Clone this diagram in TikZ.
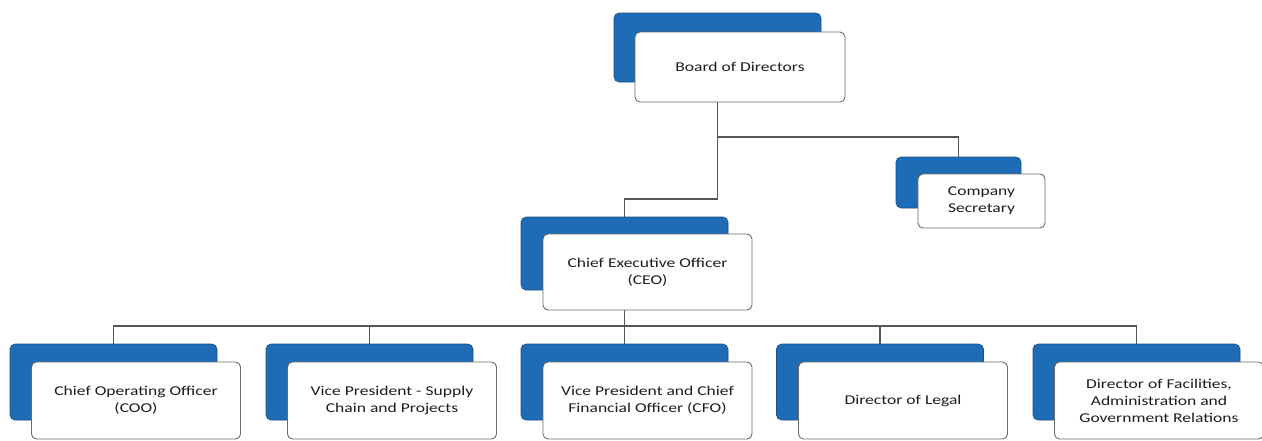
\documentclass[tikz,border=0pt]{standalone}
\usepackage{fontspec}
\setmainfont{Carlito}[FakeStretch=1.3]
\usetikzlibrary{backgrounds}
\definecolor{boxblue}{RGB}{30,108,182}
\definecolor{bluedge}{RGB}{28,78,135}
\definecolor{linegray}{RGB}{85,85,85}
\definecolor{edgegray}{RGB}{105,105,105}
\definecolor{textgray}{RGB}{30,30,30}
\begin{document}
\begin{tikzpicture}[x=1pt,y=-1pt,
  back/.style={draw=bluedge, fill=boxblue, rounded corners=5pt, line width=0.6pt, inner sep=0pt},
  front/.style={draw=edgegray, fill=white, rounded corners=5pt, line width=0.9pt, align=center, text=textgray, font=\fontsize{13.5}{17}\selectfont, inner sep=2pt},
  conn/.style={draw=linegray, line width=1.1pt}]
\useasboundingbox (0,0) rectangle (1262,440);

% Board
\node[back, minimum width=207pt, minimum height=69pt] (bboard) at (717.5,47.5) {};
\node[front, minimum width=210pt, minimum height=70pt] (board) at (740,67) {Board of Directors};
% Company Secretary
\node[back, minimum width=125pt, minimum height=51pt] (bcs) at (958.5,182.5) {};
\node[front, minimum width=127pt, minimum height=54pt] (cs) at (981.5,201) {Company\\Secretary};
% CEO
\node[back, minimum width=207pt, minimum height=73pt] (bceo) at (624.5,253.5) {};
\node[front, minimum width=209pt, minimum height=76pt] (ceo) at (647.5,272) {Chief Executive Officer\\(CEO)};
% Bottom row
\node[back, minimum width=207pt, minimum height=76pt] (b1) at (113.5,382) {};
\node[front, minimum width=209pt, minimum height=77pt] (f1) at (136,400.5) {Chief Operating Officer\\(COO)};
\node[back, minimum width=207pt, minimum height=76pt] (b2) at (369.5,382) {};
\node[front, minimum width=209pt, minimum height=77pt] (f2) at (392,400.5) {Vice President - Supply\\Chain and Projects};
\node[back, minimum width=207pt, minimum height=76pt] (b3) at (624.5,382) {};
\node[front, minimum width=209pt, minimum height=77pt] (f3) at (647.5,400.5) {Vice President and Chief\\Financial Officer (CFO)};
\node[back, minimum width=207pt, minimum height=76pt] (b4) at (880,382) {};
\node[front, minimum width=209pt, minimum height=77pt] (f4) at (903,400.5) {Director of Legal};
\node[back, minimum width=207pt, minimum height=76pt] (b5) at (1136.5,382) {};
\node[front, minimum width=209pt, minimum height=77pt] (f5) at (1159,400.5) {Director of Facilities,\\Administration and\\Government Relations};

\begin{pgfonlayer}{background}
\coordinate (j1) at (717.5,137);
\coordinate (j2) at (717.5,199);
\coordinate (bus) at (624.5,326);
\draw[conn] (bboard.center) -- (j2) -- (j2 -| bceo.center) -- (bceo.center);
\draw[conn] (j1) -| (bcs.center);
\draw[conn] (bceo.center) -- (bus);
\draw[conn] (b1.center) -- (b1.center |- bus) -- (b5.center |- bus) -- (b5.center);
\foreach \n in {2,3,4} \draw[conn] (b\n.center) -- (b\n.center |- bus);
\end{pgfonlayer}
\end{tikzpicture}
\end{document}
